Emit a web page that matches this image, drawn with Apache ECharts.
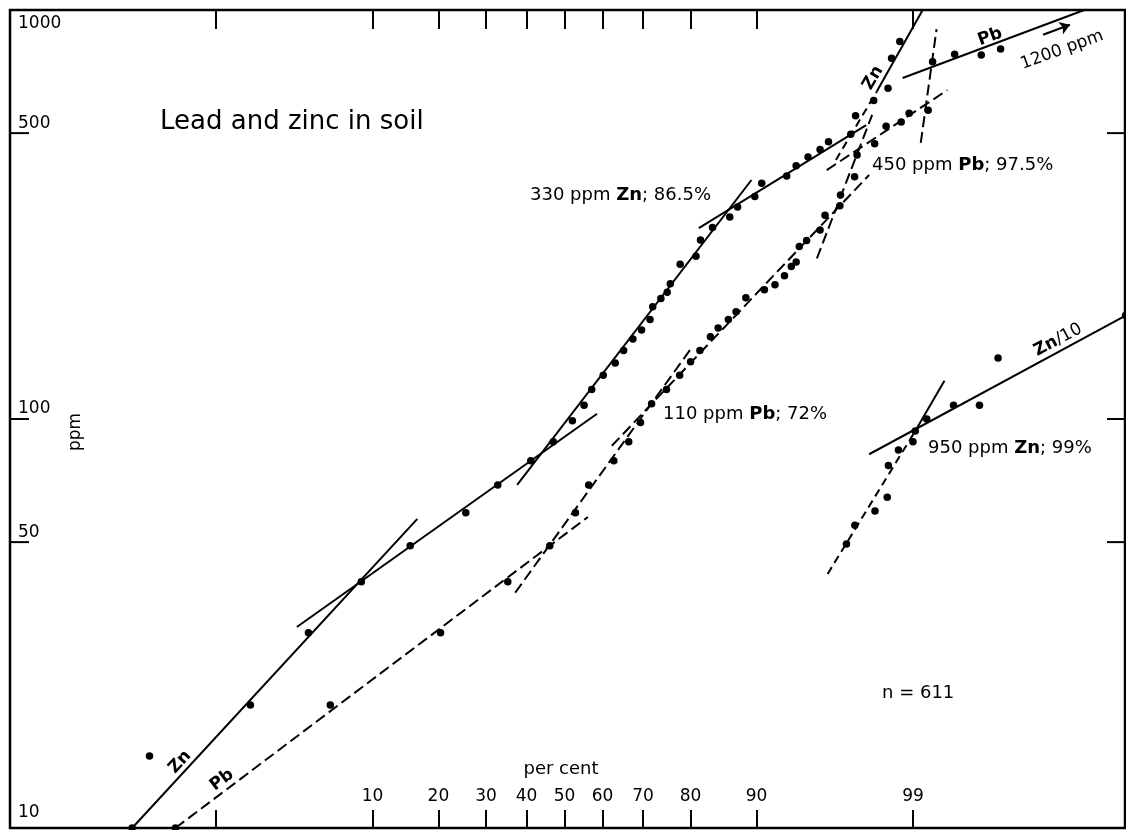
<!DOCTYPE html>
<html>
<head>
<meta charset="utf-8">
<script src="https://cdn.jsdelivr.net/npm/echarts@6/dist/echarts.min.js"></script>
<style>
  html, body { margin: 0; padding: 0; background: #fff; }
  #chart { width: 1126px; height: 830px; }
</style>
</head>
<body>
<div id="chart"></div>
<script>
// cumulative per cent, ppm
const znPoints = [
  [0.195, 10], [0.28, 15], [1.8, 20], [4.37, 30], [8.75, 40], [15.15, 49], [25.5, 59],
  [32.8, 69], [41.1, 79], [47.0, 88], [52.1, 99], [55.2, 108], [57.2, 118], [60.2, 128],
  [63.25, 137], [65.35, 147], [67.6, 157], [69.65, 165], [71.6, 175], [72.2, 188],
  [74.0, 197], [75.35, 204], [76.0, 214], [78.0, 239], [81.0, 250], [81.8, 274],
  [83.85, 294], [86.5, 312], [87.6, 330], [89.8, 350], [90.6, 377], [93.1, 393],
  [93.9, 416], [94.8, 437], [95.6, 456], [96.1, 476], [97.2, 497], [97.4, 551],
  [98.05, 601], [98.46, 644], [98.55, 762], [98.74, 838]
];
const pbPoints = [
  [0.47, 10], [5.9, 20], [20.4, 30], [35.25, 40], [46.1, 49], [52.9, 59], [56.4, 69],
  [62.9, 79], [66.6, 88], [69.4, 98], [71.95, 109], [75.2, 118], [77.9, 128], [80.0, 138],
  [81.7, 147], [83.5, 159], [84.75, 167], [86.3, 175], [87.4, 183], [88.7, 198],
  [90.9, 207], [92.0, 213], [92.9, 224], [93.5, 236], [93.9, 242], [94.15, 264],
  [94.7, 273], [95.6, 290], [95.9, 315], [96.7, 332], [96.73, 353], [97.36, 391],
  [97.46, 442], [98.08, 471], [98.41, 520], [98.77, 532], [98.93, 559], [99.24, 569],
  [99.3, 747], [99.54, 780], [99.73, 776], [99.82, 803]
];
const zn10Points = [
  [97.01, 49.5], [97.37, 55], [98.09, 59.6], [98.44, 64.4], [98.47, 77], [98.71, 84],
  [99.0, 88], [99.04, 93.5], [99.22, 100], [99.53, 108], [99.72, 108], [99.81, 141],
  [99.991, 179]
];

// straight population lines, [per cent, ppm] end points
const znLines = [
  [[0.195, 10], [16.3, 57]],
  [[3.7, 31], [58.6, 103]],
  [[37.6, 69], [89.4, 384]],
  [[81.5, 293], [97.8, 523]],
  [[98.14, 631], [99.16, 1000]],
  [[99.04, 93.5], [99.44, 124]],
  [[97.9, 82], [99.991, 179]]
];
const znDashedLines = [
  [[96.5, 430], [98.14, 631]],
  [[96.05, 41.8], [99.04, 93.5]]
];
const pbLines = [
  [[0.47, 10], [56.2, 57.6]],
  [[37.1, 37.6], [79.9, 147.5]],
  [[62.4, 86], [97.9, 395]],
  [[95.4, 247], [98.0, 554]],
  [[96.0, 406], [99.47, 637]],
  [[99.13, 473], [99.35, 898]]
];
const pbTopLine = [[98.8, 682], [99.974, 1000]];
const arrow1200 = [[99.93, 870], [99.963, 920]];

const xTicks = [1, 10, 20, 30, 40, 50, 60, 70, 80, 90, 99];
const xLabels = [10, 20, 30, 40, 50, 60, 70, 80, 90, 99];
const yTicks = [1000, 500, 100, 50, 10];

// inverse normal cdf (Acklam)
function probit(p) {
  const a = [-39.69683028665376, 220.9460984245205, -275.9285104469687, 138.3577518672690, -30.66479806614716, 2.506628277459239];
  const b = [-54.47609879822406, 161.5858368580409, -155.6989798598866, 66.80131188771972, -13.28068155288572];
  const c = [-0.007784894002430293, -0.3223964580411365, -2.400758277161838, -2.549732539343734, 4.374664141464968, 2.938163982698783];
  const d = [0.007784695709041462, 0.3224671290700398, 2.445134137142996, 3.754408661907416];
  const pl = 0.02425;
  let q, r;
  if (p < pl) {
    q = Math.sqrt(-2 * Math.log(p));
    return (((((c[0] * q + c[1]) * q + c[2]) * q + c[3]) * q + c[4]) * q + c[5]) /
      ((((d[0] * q + d[1]) * q + d[2]) * q + d[3]) * q + 1);
  }
  if (p > 1 - pl) {
    q = Math.sqrt(-2 * Math.log(1 - p));
    return -(((((c[0] * q + c[1]) * q + c[2]) * q + c[3]) * q + c[4]) * q + c[5]) /
      ((((d[0] * q + d[1]) * q + d[2]) * q + d[3]) * q + 1);
  }
  q = p - 0.5;
  r = q * q;
  return (((((a[0] * r + a[1]) * r + a[2]) * r + a[3]) * r + a[4]) * r + a[5]) * q /
    (((((b[0] * r + b[1]) * r + b[2]) * r + b[3]) * r + b[4]) * r + 1);
}

const toXY = d => [probit(d[0] / 100), d[1]];
const Z_MIN = -3.7016;
const Z_MAX = 3.7417;
const FONT = '"DejaVu Sans", sans-serif';
const BLACK = '#000';

function lineSeries(seg, dash) {
  return {
    type: 'line',
    data: seg.map(toXY),
    symbol: 'none',
    silent: true,
    z: 2,
    lineStyle: { color: BLACK, width: 2, type: dash ? dash : 'solid' }
  };
}

function pointSeries(pts) {
  return {
    type: 'scatter',
    data: pts.map(toXY),
    symbol: 'circle',
    symbolSize: 7.5,
    clip: false,
    z: 3,
    itemStyle: { color: BLACK, opacity: 1 }
  };
}

function txt(x, y, text, size, opt) {
  opt = opt || {};
  return {
    type: 'text',
    x: x,
    y: y,
    rotation: (opt.rot || 0) * Math.PI / 180,
    z: 10,
    style: {
      text: text,
      fill: BLACK,
      fontSize: size,
      fontFamily: FONT,
      fontWeight: opt.bold ? 'bold' : 'normal',
      align: opt.align || 'left',
      verticalAlign: 'middle',
      rich: {
        b: { fontSize: size, fontFamily: FONT, fontWeight: 'bold', fill: BLACK }
      }
    }
  };
}

const tickZ = xTicks.map(p => probit(p / 100));
const labelZ = xLabels.map(p => probit(p / 100));

const chart = echarts.init(document.getElementById('chart'));
chart.setOption({
  animation: false,
  backgroundColor: '#fff',
  grid: {
    left: 10, right: 1, top: 10, bottom: 2,
    show: true, borderColor: BLACK, borderWidth: 2.5, backgroundColor: 'transparent'
  },
  xAxis: [
    {
      type: 'value', min: Z_MIN, max: Z_MAX, position: 'bottom',
      axisLine: { show: false },
      splitLine: { show: false },
      axisTick: { show: true, inside: true, length: 18, customValues: tickZ, lineStyle: { color: BLACK, width: 2 } },
      axisLabel: {
        show: true, inside: true, margin: 23, customValues: labelZ,
        color: BLACK, fontSize: 17, fontFamily: FONT,
        formatter: v => {
          const i = labelZ.findIndex(z => Math.abs(z - v) < 1e-6);
          return i >= 0 ? String(xLabels[i]) : '';
        }
      }
    },
    {
      type: 'value', min: Z_MIN, max: Z_MAX, position: 'top',
      axisLine: { show: false },
      splitLine: { show: false },
      axisTick: { show: true, inside: true, length: 19, customValues: tickZ, lineStyle: { color: BLACK, width: 2 } },
      axisLabel: { show: false }
    }
  ],
  yAxis: {
    type: 'log', logBase: 10, min: 10, max: 1000,
    axisLine: { show: false }, axisTick: { show: false },
    axisLabel: { show: false }, splitLine: { show: false }
  },
  graphic: [
    txt(160, 122, 'Lead and zinc in soil', 26),
    txt(530, 195, '330 ppm {b|Zn}; 86.5%', 18),
    txt(872, 165, '450 ppm {b|Pb}; 97.5%', 18),
    txt(663, 414, '110 ppm {b|Pb}; 72%', 18),
    txt(928, 448, '950 ppm {b|Zn}; 99%', 18),
    txt(882, 693, 'n = 611', 18),
    txt(561, 769, 'per cent', 18, { align: 'center' }),
    txt(76, 432, 'ppm', 17, { align: 'center', rot: 90 }),
    txt(180, 762, 'Zn', 17, { align: 'center', rot: 47, bold: true }),
    txt(222, 780, 'Pb', 17, { align: 'center', rot: 37, bold: true }),
    txt(873, 78, 'Zn', 17, { align: 'center', rot: 60, bold: true }),
    txt(990, 37, 'Pb', 17, { align: 'center', rot: 20, bold: true }),
    txt(1062, 50, '1200 ppm', 17, { align: 'center', rot: 20 }),
    txt(1058, 340, '{b|Zn}/10', 17, { align: 'center', rot: 28 })
  ],
  series: [
    ...znLines.map(s => lineSeries(s)),
    ...znDashedLines.map(s => lineSeries(s, [8, 5])),
    ...pbLines.map(s => lineSeries(s, [11, 5])),
    Object.assign(lineSeries(pbTopLine), {
      markLine: {
        silent: true,
        symbol: ['none', 'arrow'],
        symbolSize: 10,
        label: { show: false },
        lineStyle: { color: BLACK, width: 2, type: 'solid' },
        data: [[{ coord: toXY(arrow1200[0]) }, { coord: toXY(arrow1200[1]) }]]
      }
    }),
    pointSeries(znPoints),
    pointSeries(pbPoints),
    pointSeries(zn10Points),
    {
      type: 'custom',
      silent: true,
      clip: false,
      z: 5,
      data: yTicks.map(v => [Z_MIN, v]),
      renderItem: (params, api) => {
        const v = api.value(1);
        const pl = api.coord([Z_MIN, v]);
        const pr = api.coord([Z_MAX, v]);
        const children = [];
        const inner = v !== 1000 && v !== 10;
        if (inner) {
          children.push({ type: 'line', shape: { x1: pl[0], y1: pl[1], x2: pl[0] + 19, y2: pl[1] }, style: { stroke: BLACK, lineWidth: 2 } });
          children.push({ type: 'line', shape: { x1: pr[0] - 18, y1: pr[1], x2: pr[0], y2: pr[1] }, style: { stroke: BLACK, lineWidth: 2 } });
        }
        const dy = v === 1000 ? 14 : (v === 10 ? -15 : -10);
        children.push({
          type: 'text', x: pl[0] + 8, y: pl[1] + dy,
          style: { text: String(v), fill: BLACK, fontSize: 17, fontFamily: FONT, align: 'left', verticalAlign: 'middle' }
        });
        return { type: 'group', children: children };
      }
    }
  ]
});
</script>
</body>
</html>
